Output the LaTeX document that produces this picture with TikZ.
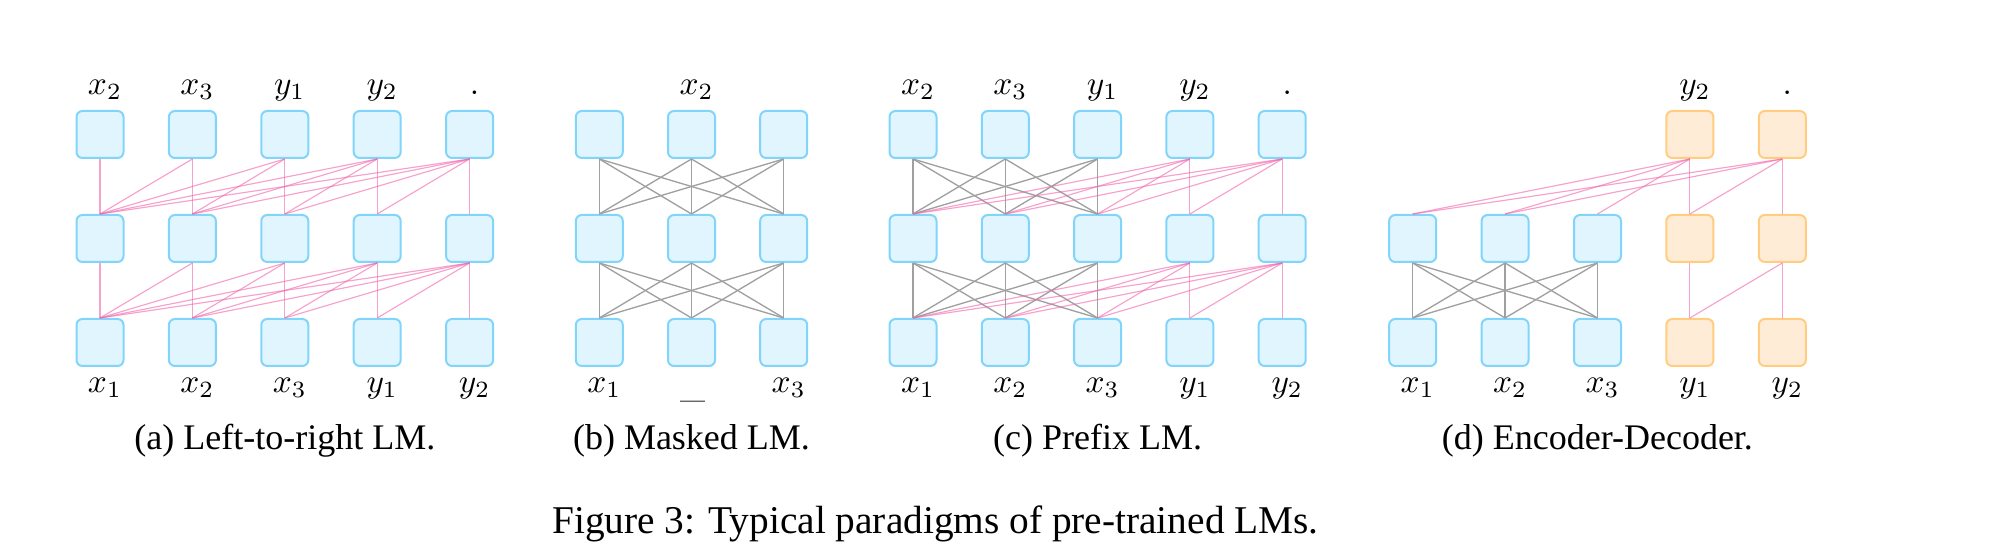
\documentclass[tikz,border=0pt]{standalone}
\usepackage{fontspec}
\newfontfamily\capfont{Liberation Serif}
\definecolor{boxfill}{RGB}{225,245,254}
\definecolor{boxline}{RGB}{129,212,250}
\definecolor{ofill}{RGB}{255,236,214}
\definecolor{oline}{RGB}{255,204,128}
\definecolor{pinkl}{RGB}{240,100,170}
\definecolor{grayl}{RGB}{160,160,160}
\tikzset{
  box/.style={draw=boxline, fill=boxfill, line width=0.6pt, rounded corners=1.8pt, minimum size=14.1pt, inner sep=0pt},
  obox/.style={box, draw=oline, fill=ofill},
  pe/.style={draw=pinkl, draw opacity=0.6, line width=0.35pt},
  ge/.style={draw=grayl, line width=0.4pt},
  lab/.style={anchor=base, inner sep=0pt, font=\normalsize},
  subcap/.style={anchor=base, inner sep=0pt, font=\capfont\fontsize{10.8}{13}\selectfont},
  figcap/.style={anchor=base, inner sep=0pt, font=\capfont\fontsize{11.8}{14}\selectfont}
}
\begin{document}
\begin{tikzpicture}[x=0.3pt,y=-0.3pt]
\useasboundingbox (0,0) rectangle (2007,560);
% ---------- (a) Left-to-right LM
\foreach \r/\y in {1/134.5,2/238.5,3/342.5}{
  \foreach \i in {1,...,5}{
    \node[box] (a\r\i) at ({100+92.4*(\i-1)},\y) {};
  }
}
\foreach \j in {1,...,5}{
  \foreach \i in {1,...,\j}{
    \draw[pe] (a1\j.south) -- (a2\i.north);
    \draw[pe] (a2\j.south) -- (a3\i.north);
  }
}
\foreach \i/\t in {1/x_2,2/x_3,3/y_1,4/y_2,5/.}{
  \node[lab] (ta\i) at ({105+92.4*(\i-1)},95) {$\t$};
}
\foreach \i/\t in {1/x_1,2/x_2,3/x_3,4/y_1,5/y_2}{
  \node[lab] (ba\i) at ({105+92.4*(\i-1)},393) {$\t$};
}
\node[subcap] (capa) at (284.8,450) {(a) Left-to-right LM.};
% ---------- (b) Masked LM
\foreach \r/\y in {1/134.5,2/238.5,3/342.5}{
  \foreach \i in {1,...,3}{
    \node[box] (b\r\i) at ({599.3+92.2*(\i-1)},\y) {};
  }
}
\foreach \j in {1,...,3}{
  \foreach \i in {1,...,3}{
    \draw[ge] (b1\j.south) -- (b2\i.north);
    \draw[ge] (b2\j.south) -- (b3\i.north);
  }
}
\node[lab] (tb2) at (696.5,95) {$x_2$};
\node[lab] (bb1) at (604.3,393) {$x_1$};
\node[lab] (bb2) at (692.5,398) {\_};
\node[lab] (bb3) at (788.7,393) {$x_3$};
\node[subcap] (capb) at (691.5,450) {(b) Masked LM.};
% ---------- (c) Prefix LM
\foreach \r/\y in {1/134.5,2/238.5,3/342.5}{
  \foreach \i in {1,...,5}{
    \node[box] (c\r\i) at ({913+92.3*(\i-1)},\y) {};
  }
}
\foreach \j in {1,...,3}{
  \foreach \i in {1,...,3}{
    \draw[ge] (c1\j.south) -- (c2\i.north);
    \draw[ge] (c2\j.south) -- (c3\i.north);
  }
}
\foreach \j in {4,5}{
  \foreach \i in {1,...,\j}{
    \draw[pe] (c1\j.south) -- (c2\i.north);
    \draw[pe] (c2\j.south) -- (c3\i.north);
  }
}
\foreach \i/\t in {1/x_2,2/x_3,3/y_1,4/y_2,5/.}{
  \node[lab] (tc\i) at ({918+92.3*(\i-1)},95) {$\t$};
}
\foreach \i/\t in {1/x_1,2/x_2,3/x_3,4/y_1,5/y_2}{
  \node[lab] (bc\i) at ({918+92.3*(\i-1)},393) {$\t$};
}
\node[subcap] (capc) at (1097.6,450) {(c) Prefix LM.};
% ---------- (d) Encoder-Decoder
\foreach \r/\y in {2/238.5,3/342.5}{
  \foreach \i in {1,...,3}{
    \node[box] (d\r\i) at ({1412.7+92.4*(\i-1)},\y) {};
  }
}
\foreach \r/\y in {1/134.5,2/238.5,3/342.5}{
  \foreach \i in {4,5}{
    \node[obox] (d\r\i) at ({1412.7+92.4*(\i-1)},\y) {};
  }
}
\foreach \j in {1,...,3}{
  \foreach \i in {1,...,3}{
    \draw[ge] (d2\j.south) -- (d3\i.north);
  }
}
\foreach \i in {1,2,3,4}{\draw[pe] (d14.south) -- (d2\i.north);}
\foreach \i in {1,2,4,5}{\draw[pe] (d15.south) -- (d2\i.north);}
\draw[pe] (d24.south) -- (d34.north);
\draw[pe] (d25.south) -- (d34.north);
\draw[pe] (d25.south) -- (d35.north);
\node[lab] (td4) at ({1417.7+92.4*3},95) {$y_2$};
\node[lab] (td5) at ({1417.7+92.4*4},95) {$.$};
\foreach \i/\t in {1/x_1,2/x_2,3/x_3,4/y_1,5/y_2}{
  \node[lab] (bd\i) at ({1417.7+92.4*(\i-1)},393) {$\t$};
}
\node[subcap] (capd) at (1597.4,450) {(d) Encoder-Decoder.};
% ---------- figure caption
\node[figcap] (fig) at (935.5,534) {Figure 3: Typical paradigms of pre-trained LMs.};
\end{tikzpicture}
\end{document}
